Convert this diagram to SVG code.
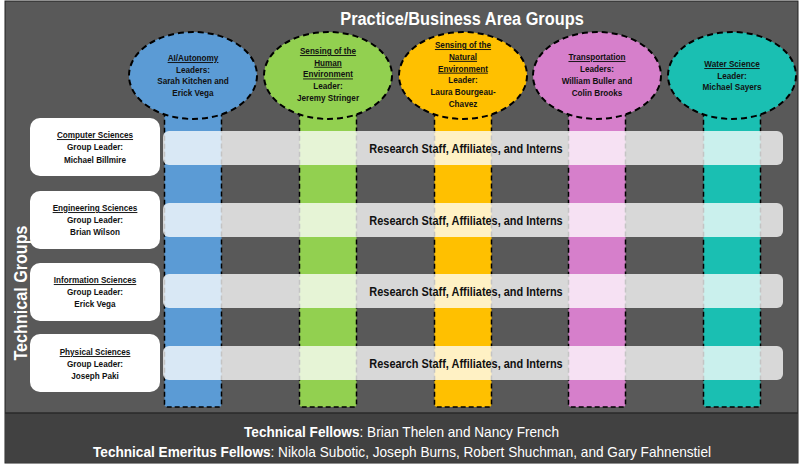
<svg xmlns="http://www.w3.org/2000/svg" width="800" height="467" viewBox="0 0 800 467">
<style>
.t{font-family:"Liberation Sans",Arial,sans-serif;font-weight:bold;fill:#111;text-anchor:middle;font-size:9.5px}
.u{text-decoration:underline}
.col{stroke:#000;stroke-width:1.5;stroke-dasharray:5,3}
.ell{stroke:#000;stroke-width:2;stroke-dasharray:6,4}
.bar{fill:#fff;fill-opacity:.77}
.box{fill:#fff}
.rs{font-family:"Liberation Sans",Arial,sans-serif;font-weight:bold;fill:#111;font-size:12.5px;text-anchor:middle}
.wt{font-family:"Liberation Sans",Arial,sans-serif;font-weight:bold;fill:#fff;text-anchor:middle}
.ft{font-family:"Liberation Sans",Arial,sans-serif;fill:#fff;font-size:15px}
</style>
<rect x="0" y="0" width="800" height="467" fill="#fff"/>
<rect x="5" y="1" width="793" height="462" fill="#595959" stroke="#222" stroke-width="1"/>
<rect x="5.5" y="413" width="792" height="49.5" fill="#414141"/>
<line x1="5" y1="413" x2="798" y2="413" stroke="#2a2a2a" stroke-width="1.5"/>

<text class="wt" font-size="19" transform="translate(462,25) scale(.86,1)">Practice/Business Area Groups</text>
<text class="wt" font-size="19" transform="translate(27,293) rotate(-90) scale(.85,1)">Technical Groups</text>

<g id="columns">
<rect class="col" x="164.5" y="100" width="57" height="307" rx="3" fill="#5b9bd5"/>
<rect class="col" x="299.5" y="100" width="57" height="307" rx="3" fill="#92d050"/>
<rect class="col" x="434.5" y="100" width="57" height="307" rx="3" fill="#ffc000"/>
<rect class="col" x="568.5" y="100" width="57" height="307" rx="3" fill="#d67fcb"/>
<rect class="col" x="703.5" y="100" width="57" height="307" rx="3" fill="#1abfb2"/>
</g>

<g id="ai-autonomy">
<ellipse class="ell" cx="193" cy="75.5" rx="64" ry="43.5" fill="#5b9bd5"/>
<text class="t" transform="translate(193,61) scale(.86,1)"><tspan x="0" class="u">AI/Autonomy</tspan><tspan x="0" dy="11.7">Leaders:</tspan><tspan x="0" dy="11.7">Sarah Kitchen and</tspan><tspan x="0" dy="11.7">Erick Vega</tspan></text>
</g>
<g id="sensing-human">
<ellipse class="ell" cx="328" cy="75.5" rx="64" ry="43.5" fill="#92d050"/>
<text class="t" transform="translate(328,54) scale(.86,1)"><tspan x="0" class="u">Sensing of the</tspan><tspan x="0" dy="11.7" class="u">Human</tspan><tspan x="0" dy="11.7" class="u">Environment</tspan><tspan x="0" dy="11.7">Leader:</tspan><tspan x="0" dy="11.7">Jeremy Stringer</tspan></text>
</g>
<g id="sensing-natural">
<ellipse class="ell" cx="463" cy="75.5" rx="64" ry="43.5" fill="#ffc000"/>
<text class="t" transform="translate(463,48) scale(.86,1)"><tspan x="0" class="u">Sensing of the</tspan><tspan x="0" dy="11.8" class="u">Natural</tspan><tspan x="0" dy="11.8" class="u">Environment</tspan><tspan x="0" dy="11.8">Leader:</tspan><tspan x="0" dy="11.8">Laura Bourgeau-</tspan><tspan x="0" dy="11.8">Chavez</tspan></text>
</g>
<g id="transportation">
<ellipse class="ell" cx="597" cy="75.5" rx="64" ry="43.5" fill="#d67fcb"/>
<text class="t" transform="translate(597,60) scale(.86,1)"><tspan x="0" class="u">Transportation</tspan><tspan x="0" dy="12">Leaders:</tspan><tspan x="0" dy="12">William Buller and</tspan><tspan x="0" dy="12">Colin Brooks</tspan></text>
</g>
<g id="water-science">
<ellipse class="ell" cx="732" cy="75.5" rx="64" ry="43.5" fill="#1abfb2"/>
<text class="t" transform="translate(732,67) scale(.86,1)"><tspan x="0" class="u">Water Science</tspan><tspan x="0" dy="11.7">Leader:</tspan><tspan x="0" dy="11.7">Michael Sayers</tspan></text>
</g>

<g id="bars">
<rect class="bar" x="163" y="131" width="620" height="34" rx="6"/>
<rect class="bar" x="163" y="203" width="620" height="34" rx="6"/>
<rect class="bar" x="163" y="274" width="620" height="34" rx="6"/>
<rect class="bar" x="163" y="346" width="620" height="34" rx="6"/>
<text class="rs" transform="translate(466,152.5) scale(.875,1)">Research Staff, Affiliates, and Interns</text>
<text class="rs" transform="translate(466,224.5) scale(.875,1)">Research Staff, Affiliates, and Interns</text>
<text class="rs" transform="translate(466,295.5) scale(.875,1)">Research Staff, Affiliates, and Interns</text>
<text class="rs" transform="translate(466,367.5) scale(.875,1)">Research Staff, Affiliates, and Interns</text>
</g>

<g id="computer-sciences">
<rect class="box" x="30" y="118" width="130" height="58" rx="10"/>
<text class="t" transform="translate(95,138) scale(.86,1)"><tspan x="0" class="u">Computer Sciences</tspan><tspan x="0" dy="12.5">Group Leader:</tspan><tspan x="0" dy="12.5">Michael Billmire</tspan></text>
</g>
<g id="engineering-sciences">
<rect class="box" x="30" y="191" width="130" height="58" rx="10"/>
<text class="t" transform="translate(95,211) scale(.86,1)"><tspan x="0" class="u">Engineering Sciences</tspan><tspan x="0" dy="12">Group Leader:</tspan><tspan x="0" dy="12">Brian Wilson</tspan></text>
</g>
<g id="information-sciences">
<rect class="box" x="30" y="263" width="130" height="58" rx="10"/>
<text class="t" transform="translate(95,283) scale(.86,1)"><tspan x="0" class="u">Information Sciences</tspan><tspan x="0" dy="12">Group Leader:</tspan><tspan x="0" dy="12">Erick Vega</tspan></text>
</g>
<g id="physical-sciences">
<rect class="box" x="30" y="334" width="130" height="58" rx="10"/>
<text class="t" transform="translate(95,355) scale(.86,1)"><tspan x="0" class="u">Physical Sciences</tspan><tspan x="0" dy="12">Group Leader:</tspan><tspan x="0" dy="12">Joseph Paki</tspan></text>
</g>

<g id="fellows">
<text class="ft" x="244" y="437" textLength="315" lengthAdjust="spacingAndGlyphs"><tspan font-weight="bold">Technical Fellows</tspan>: Brian Thelen and Nancy French</text>
<text class="ft" x="93" y="457" textLength="618" lengthAdjust="spacingAndGlyphs"><tspan font-weight="bold">Technical Emeritus Fellows</tspan>: Nikola Subotic, Joseph Burns, Robert Shuchman, and Gary Fahnenstiel</text>
</g>
</svg>
